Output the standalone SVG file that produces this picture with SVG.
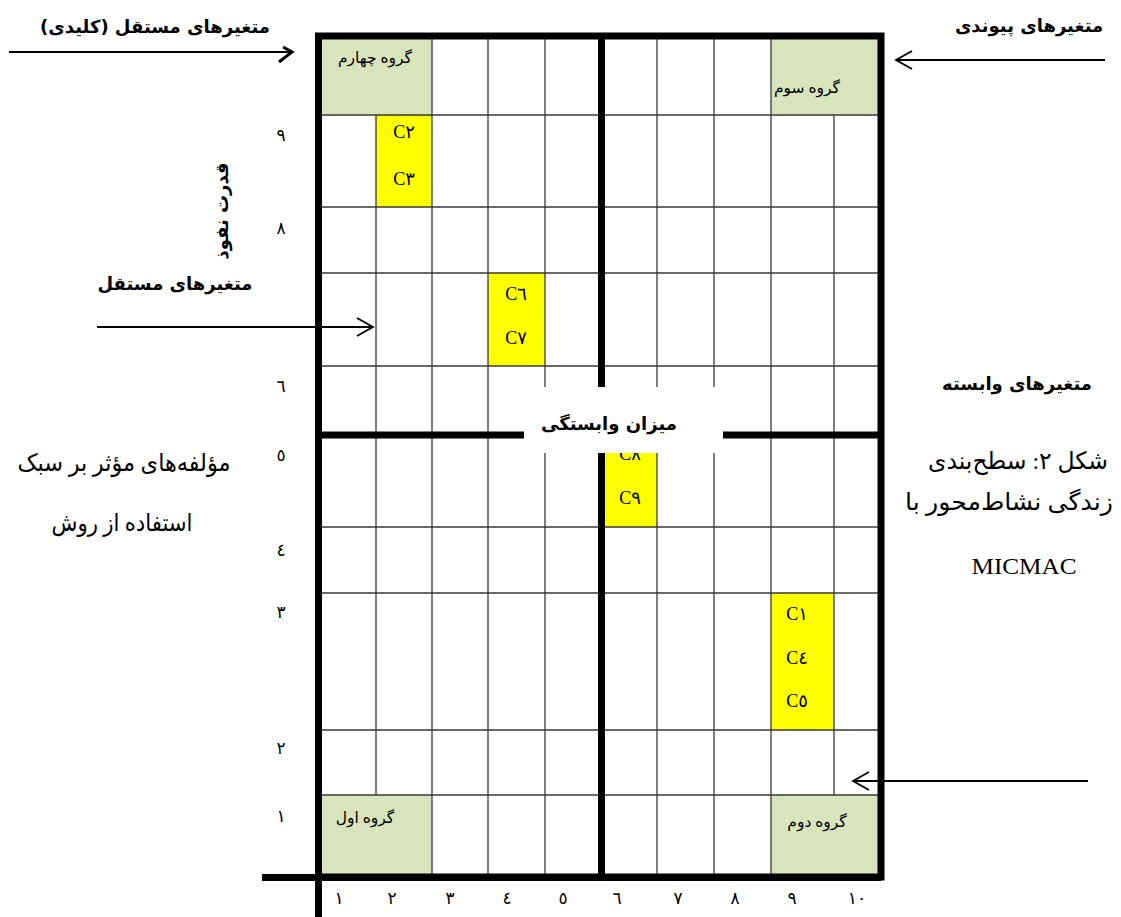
<svg xmlns="http://www.w3.org/2000/svg" width="1121" height="917" viewBox="0 0 1121 917">
<style>
.thin{stroke:#3a3a3a;stroke-width:1.3;fill:none}
.thick{stroke:#000;stroke-width:7;fill:none}
.green{fill:#d7e4bc}
.yellow{fill:#ffff00}
.arr{stroke:#000;stroke-width:1.8;fill:none}
.b{font-family:"DejaVu Sans",sans-serif;font-weight:bold;font-size:18px;fill:#000;text-anchor:middle;direction:rtl}
.s{font-family:"Liberation Serif","DejaVu Sans",serif;font-size:24px;fill:#000;text-anchor:middle;direction:rtl}
.g{font-family:"Liberation Serif","DejaVu Sans",serif;font-size:15.5px;fill:#000;text-anchor:middle;direction:rtl}
.c{font-family:"Liberation Serif","DejaVu Sans",serif;font-size:18px;fill:#000;text-anchor:middle}
.c tspan.l{font-family:"Liberation Serif",serif}
.n{font-family:"Liberation Serif","DejaVu Sans",serif;font-size:17px;fill:#000;text-anchor:middle}
</style>
<rect x="0" y="0" width="1121" height="917" fill="#fff"/>

<g id="groups">
  <g id="group4"><rect class="green" x="322" y="39" width="110" height="76"/><text class="g" x="375" y="63">گروه چهارم</text></g>
  <g id="group3"><rect class="green" x="771" y="39" width="107" height="76"/><text class="g" x="807" y="93">گروه سوم</text></g>
  <g id="group1"><rect class="green" x="322" y="795" width="110" height="79"/><text class="g" x="365" y="823">گروه اول</text></g>
  <g id="group2"><rect class="green" x="771" y="795" width="107" height="79"/><text class="g" x="817" y="827">گروه دوم</text></g>
</g>

<g id="variables">
  <g id="c2c3"><rect class="yellow" x="376" y="115" width="56" height="92"/><text class="c" x="404" y="138"><tspan class="l">C</tspan>٢</text><text class="c" x="404" y="185"><tspan class="l">C</tspan>٣</text></g>
  <g id="c6c7"><rect class="yellow" x="488" y="273" width="57" height="93"/><text class="c" x="516" y="300"><tspan class="l">C</tspan>٦</text><text class="c" x="516" y="344"><tspan class="l">C</tspan>٧</text></g>
  <g id="c8c9"><rect class="yellow" x="605" y="435" width="52" height="92"/><text class="c" x="630" y="460"><tspan class="l">C</tspan>٨</text><text class="c" x="630" y="504"><tspan class="l">C</tspan>٩</text></g>
  <g id="c1c4c5"><rect class="yellow" x="771" y="593" width="63" height="137"/><text class="c" x="797" y="620"><tspan class="l">C</tspan>١</text><text class="c" x="797" y="664"><tspan class="l">C</tspan>٤</text><text class="c" x="797" y="707"><tspan class="l">C</tspan>٥</text></g>
</g>

<g id="grid">
  <path class="thin" d="M376 115V795 M432 36V877 M488 36V877 M545 36V877 M657 36V877 M714 36V877 M771 36V877 M834 115V795"/>
  <path class="thin" d="M318 115H881 M318 207H881 M318 273H881 M318 366H881 M318 527H881 M318 593H881 M318 730H881 M318 795H881"/>
  <rect class="thick" x="318.5" y="36" width="562.5" height="841"/>
  <path class="thick" d="M601.5 36V877 M318 435H881 M262 877.5H881 M318.5 877V917"/>
  <rect x="524" y="387" width="199" height="66" fill="#fff"/>
</g>

<g id="axis-labels">
  <text class="b" x="609" y="430">میزان وابستگی</text>
  <text class="b" transform="translate(228 211) rotate(-90)" x="0" y="0">قدرت نفوذ</text>
  <g class="n">
    <text x="281" y="141">٩</text><text x="281" y="234">٨</text><text x="281" y="392">٦</text><text x="281" y="461">٥</text>
    <text x="281" y="556">٤</text><text x="281" y="618">٣</text><text x="281" y="754">٢</text><text x="281" y="822">١</text>
    <text x="339" y="904">١</text><text x="392" y="904">٢</text><text x="450" y="904">٣</text><text x="507" y="904">٤</text><text x="563" y="904">٥</text>
    <text x="617" y="904">٦</text><text x="678" y="904">٧</text><text x="735" y="904">٨</text><text x="792" y="904">٩</text><text x="857" y="904">١٠</text>
  </g>
</g>

<g id="labels">
  <text class="b" x="155" y="33">متغیرهای مستقل (کلیدی)</text>
  <text class="b" x="1029" y="32">متغیرهای پیوندی</text>
  <text class="b" x="175" y="290">متغیرهای مستقل</text>
  <text class="b" x="1017" y="390">متغیرهای وابسته</text>
  <text class="s" x="124" y="471" textLength="213" lengthAdjust="spacingAndGlyphs">مؤلفه‌های مؤثر بر سبک</text>
  <text class="s" x="122" y="531" textLength="141" lengthAdjust="spacingAndGlyphs">استفاده از روش</text>
  <text class="s" x="1018" y="469" textLength="180" lengthAdjust="spacingAndGlyphs">شکل ۲: سطح‌بندی</text>
  <text class="s" x="1009" y="510" textLength="208" lengthAdjust="spacingAndGlyphs">زندگی نشاط‌محور با</text>
  <text class="s" x="1024" y="574" style="direction:ltr" textLength="105" lengthAdjust="spacingAndGlyphs">MICMAC</text>
</g>

<g id="connectors">
  <path class="arr" d="M9 52H292"/>
  <path d="M279 62L292 52L283 47" stroke="#000" stroke-width="3" fill="none"/>
  <path class="arr" d="M1105 60H896 M912 51L896 60L912 69"/>
  <path class="arr" d="M97 327H373 M357 318L373 327L357 336"/>
  <path class="arr" d="M1088 781H853 M869 772L853 781L869 790"/>
</g>
</svg>
